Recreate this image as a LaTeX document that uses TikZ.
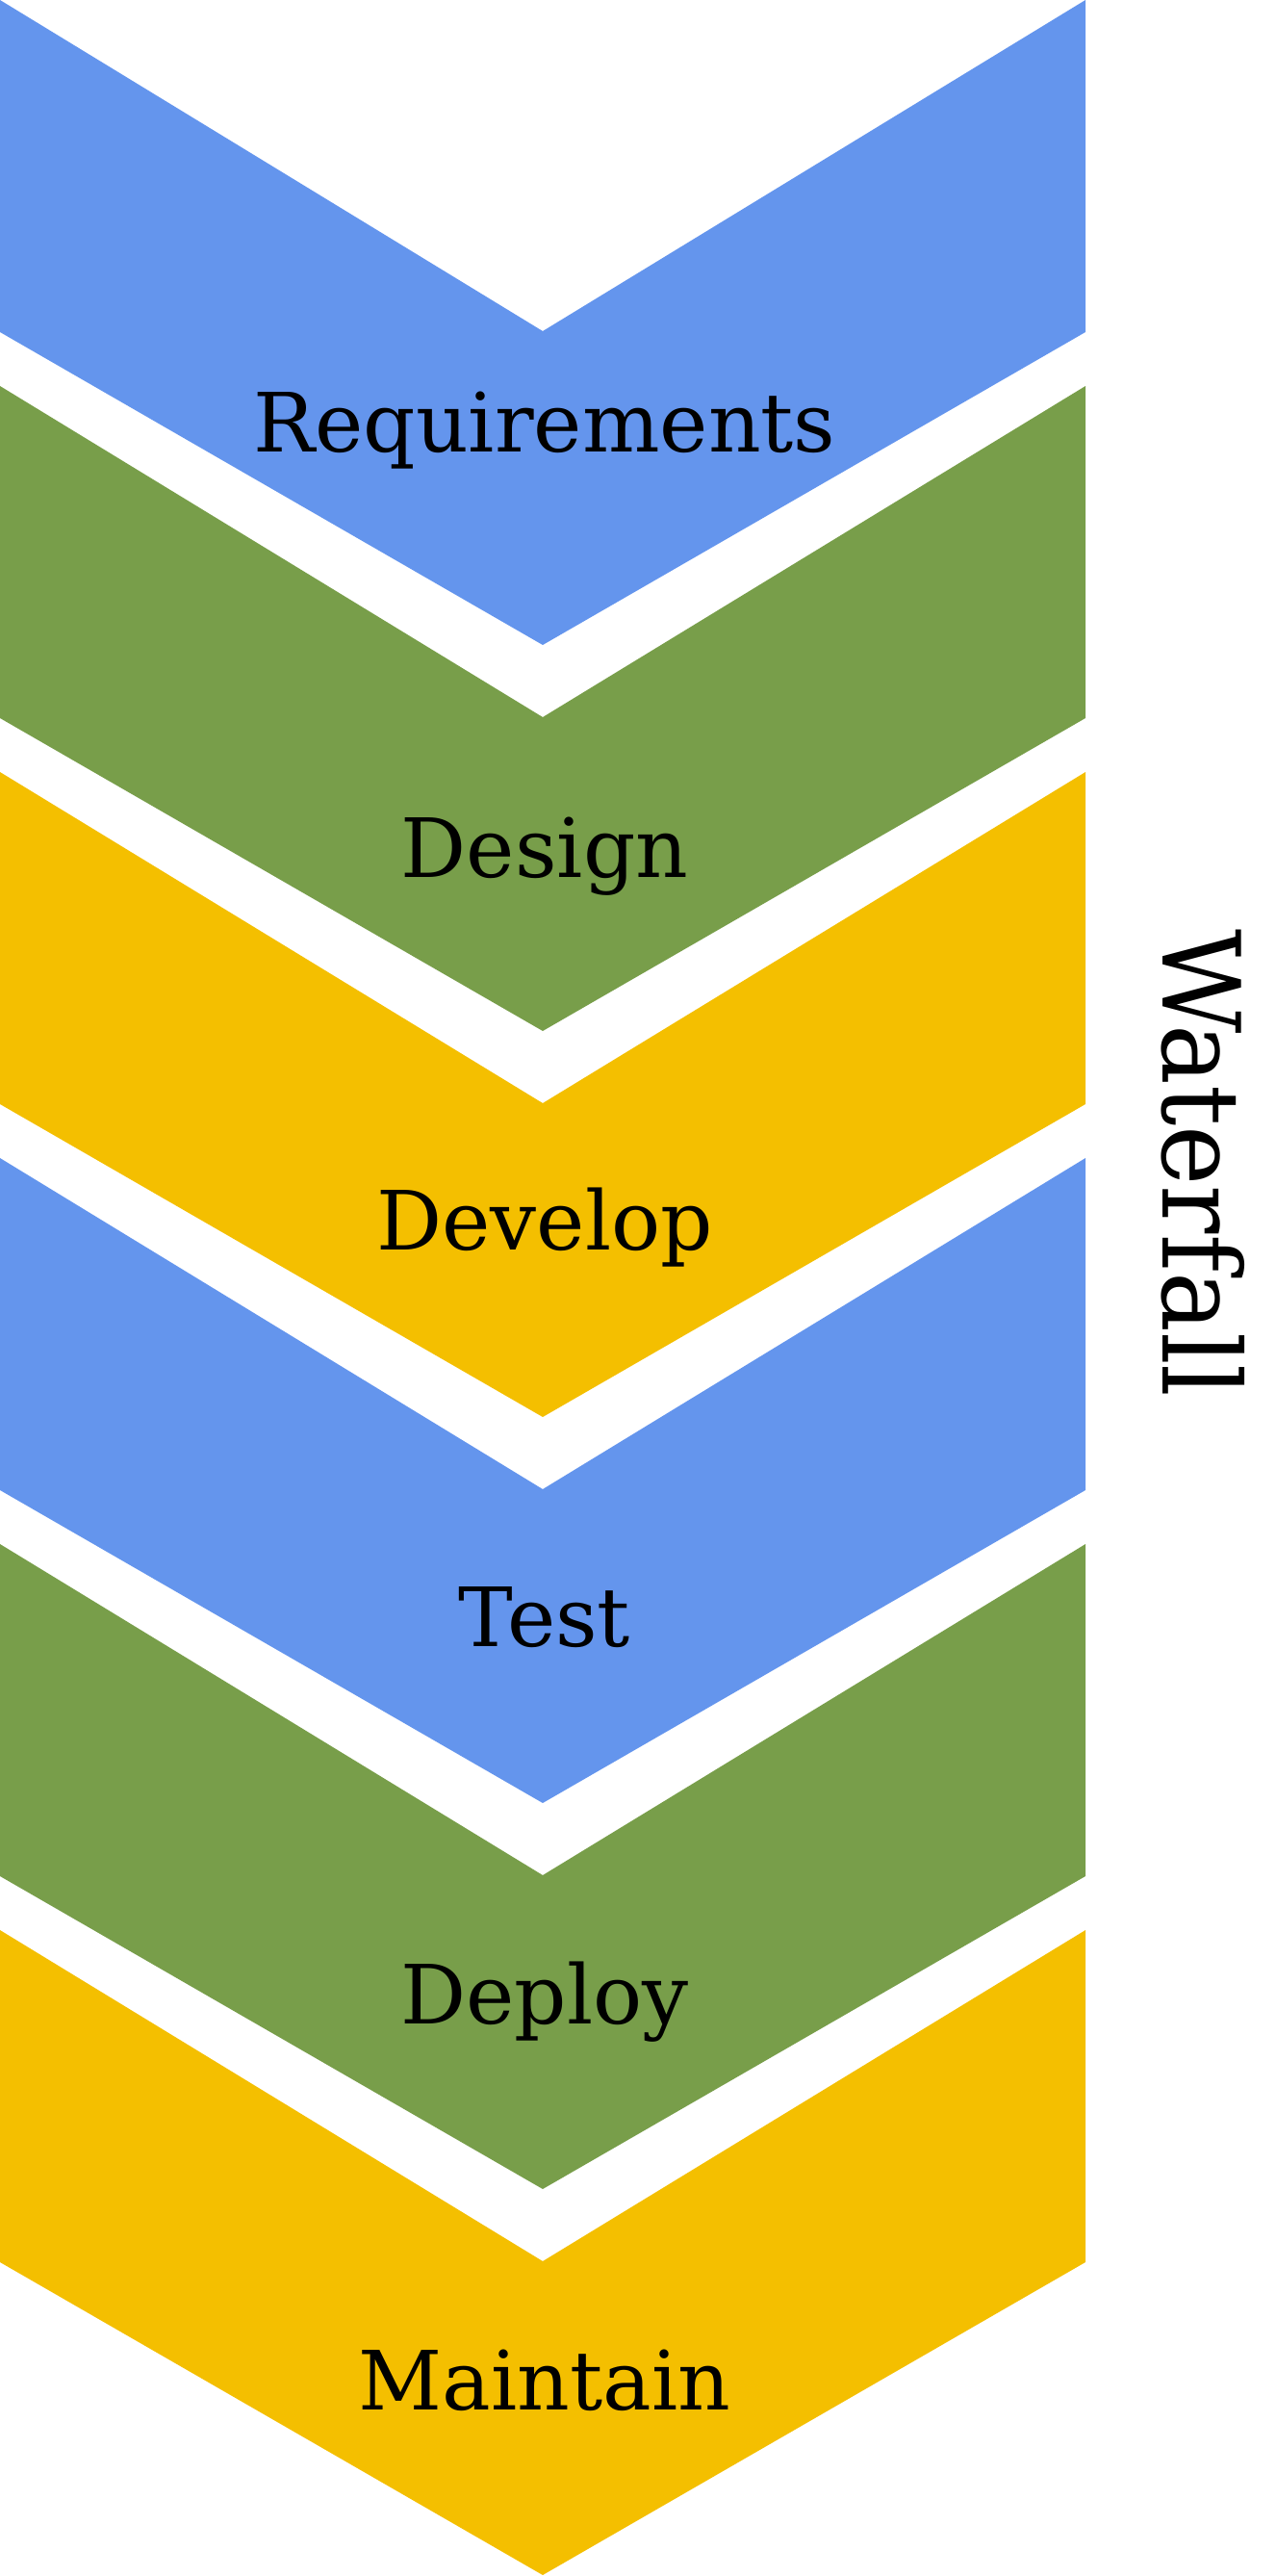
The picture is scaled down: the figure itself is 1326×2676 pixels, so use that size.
\documentclass[tikz,border=0pt]{standalone}
\usepackage{fontspec}
\setmainfont{DejaVu Serif}
\definecolor{phaseblue}{RGB}{100,149,237}
\definecolor{phasegreen}{RGB}{120,158,74}
\definecolor{phaseyellow}{RGB}{244,191,0}
\begin{document}
\begin{tikzpicture}[x=0.5pt,y=-0.5pt,
  phase/.style={inner sep=0pt,anchor=base,font=\fontsize{42.5pt}{50pt}\selectfont},
  title/.style={inner sep=0pt,font=\fontsize{56pt}{66pt}\selectfont}]
\useasboundingbox (0,0) rectangle (1326,2676);
% six stacked chevrons, one every 401 units
\foreach \k/\col in {0/phaseblue,1/phasegreen,2/phaseyellow,3/phaseblue,4/phasegreen,5/phaseyellow}{
  \pgfmathsetmacro{\o}{401*\k}
  \fill[\col] (0,\o) -- (564,\o+344) -- (1128,\o) -- (1128,\o+345)
    -- (564,\o+670) -- (0,\o+345) -- cycle;
}
\node[phase] (req) at (566,469) {Requirements};
\node[phase] (des) at (566,911) {Design};
\node[phase] (dev) at (566,1298) {Develop};
\node[phase] (tst) at (566,1710) {Test};
\node[phase] (dep) at (566,2102) {Deploy};
\node[phase] (mnt) at (566,2503) {Maintain};
% vertical title, read from top to bottom
\node[title,rotate=-90,anchor=base west] (wf) at (1208,965) {\scalebox{0.94}[1]{Waterfall}};
\end{tikzpicture}
\end{document}
